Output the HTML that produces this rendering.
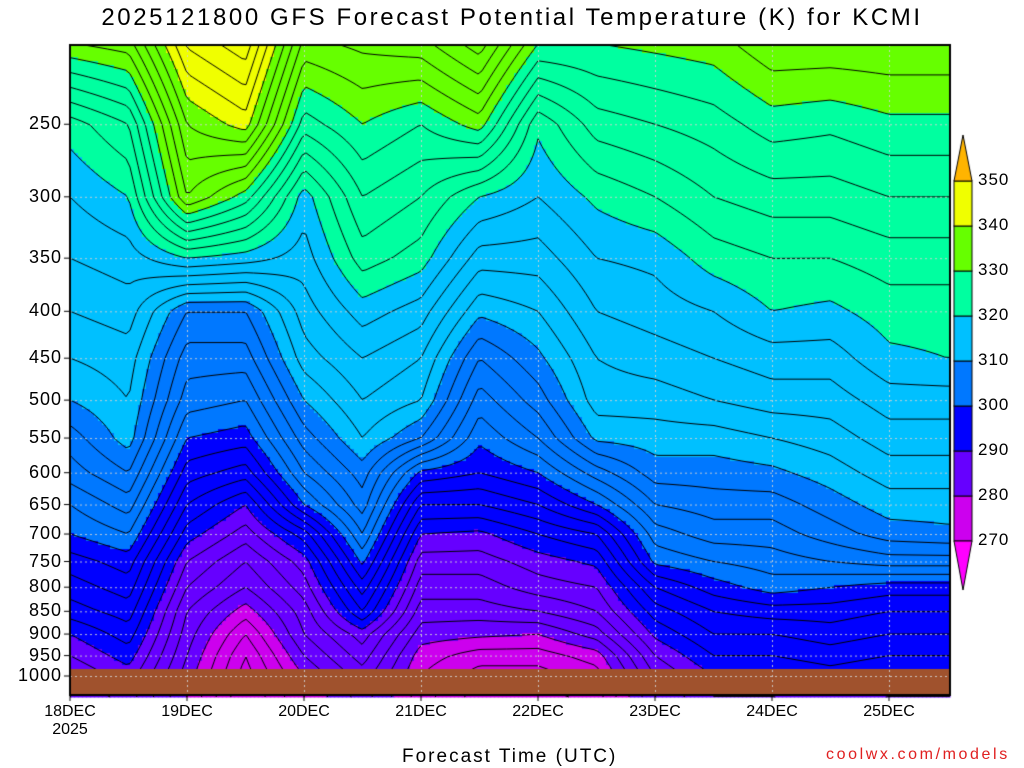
<!DOCTYPE html>
<html><head><meta charset="utf-8">
<style>
body{margin:0;background:#fff;width:1024px;height:768px;overflow:hidden;font-family:"Liberation Sans",sans-serif;}
#wrap{position:relative;width:1024px;height:768px;}
.t{position:absolute;color:#000;white-space:nowrap;}
</style></head>
<body>
<div id="wrap">
<div class="t" style="left:0;width:1024px;top:4px;text-align:center;font-size:24px;letter-spacing:2.6px;">2025121800 GFS Forecast Potential Temperature (K) for KCMI</div>
<canvas id="cv" width="1024" height="768" style="position:absolute;left:0;top:0"></canvas>
<div class="t" style="left:402px;top:746px;font-size:19px;letter-spacing:2px;">Forecast Time (UTC)</div>
<div class="t" style="left:826px;top:746px;font-size:16px;color:#e02020;letter-spacing:2.6px;">coolwx.com/models</div>
<div id="labels"></div>
</div>
<script>
const times=[0,12,24,36,48,60,72,84,96,108,120,132,144,156,168,180];
const levels=[200,250,300,350,400,450,500,550,600,650,700,750,800,850,900,950,1000];
const theta=[
[333,321,318,316,314,312,310,307,305,302,300,297,295,293,290,288,286],
[334,324,320,317,315,313,312,311,308,305,302,299,297,295,293,291,289],
[345,338,334,320,308,305,303,300,297,294,291,288,286,284,283,282,281],
[348,341,329,319,308,305,302,299,295,290,287,284,282,279,276,274,273],
[334,327,319,317,315,313,310,307,304,300,293,289,287,285,284,282,280],
[335,330,326,323,319,316,314,312,309,307,304,300.5,297,294,289,287,285],
[336,328,324,321,317,314,312,308,299.5,294,290,287,285,283,281,279,278],
[340,331,320,315,310.5,306,303,300.5,298,294,289.5,287,285,283,280.5,277,275],
[331,320.5,318,315,312,309.5,307,304,300,296,292,289,287,284,280,277,275],
[330.5,325,320.5,318,316,314,313,310.5,305,300,294,290.5,288,286,283,279,277],
[331,326,322,318.5,317,315,313,311,309,306,303,300.5,296,293,290.5,288,286],
[331.5,327,324,321,318,316,314,311,309,307,305,302,299,296,294,292,290],
[334,329,325,322,320,317,315,312,309.5,307,305,303,301,297,294,292,290],
[334,328.5,325,322,319.5,317,315,313,311,309,307,304,300,297,295,293,291],
[334,329.5,326,323,321,319.5,317,315,313,311,309,305,299,296,294,292,290],
[334,329.5,326,323,321,320,317,315,313,311,309.5,305,299,296,294,292,290]];
const yTicks=[250,300,350,400,450,500,550,600,650,700,750,800,850,900,950,1000];
const xTickLabels=["18DEC","19DEC","20DEC","21DEC","22DEC","23DEC","24DEC","25DEC"];
const cbBounds=[270,280,290,300,310,320,330,340,350];
const cbColors=["#ff00ff","#cc00ee","#6600ff","#0000ff","#0078ff","#00c0ff","#00ffa0","#66ff00","#f0ff00","#ffb400"];

const X0=70,X1=950,Y0=45,Y1=695;
const xs=h=>X0+h*117/24;
const ys=p=>676+398*Math.log(p/1000);
const pInv=y=>1000*Math.exp((y-676)/398);
function colorOf(v){let i=0;while(i<cbBounds.length&&v>=cbBounds[i])i++;return cbColors[i];}
function val(h,p){
  let i=0;while(i<times.length-2&&h>times[i+1])i++;
  let fx=(h-times[i])/(times[i+1]-times[i]);fx=Math.max(0,Math.min(1,fx));
  const lp=Math.log(p);let j=0;
  while(j<levels.length-2&&lp>Math.log(levels[j+1]))j++;
  let fy=(lp-Math.log(levels[j]))/(Math.log(levels[j+1])-Math.log(levels[j]));
  const a=theta[i][j],b=theta[i][j+1],c=theta[i+1][j],d=theta[i+1][j+1];
  return (a*(1-fy)+b*fy)*(1-fx)+(c*(1-fy)+d*fy)*fx;
}
const cv=document.getElementById('cv');const g=cv.getContext('2d');
const S=4;const nx=Math.ceil((X1-X0)/S),ny=Math.ceil((Y1-Y0)/S);
const grid=[];
for(let a=0;a<=nx;a++){grid.push([]);for(let b=0;b<=ny;b++){
  const h=(a*S)*24/117,p=pInv(Y0+b*S);grid[a].push(val(h,p));}}
for(let a=0;a<nx;a++)for(let b=0;b<ny;b++){
  const v=(grid[a][b]+grid[a+1][b]+grid[a][b+1]+grid[a+1][b+1])/4;
  g.fillStyle=colorOf(v);g.fillRect(X0+a*S,Y0+b*S,S+0.5,S+0.5);}
g.strokeStyle="#000";g.lineWidth=1;g.beginPath();
for(let L=266;L<=352;L+=2){
 for(let a=0;a<nx;a++)for(let b=0;b<ny;b++){
  const c=[grid[a][b],grid[a+1][b],grid[a+1][b+1],grid[a][b+1]];
  const P=[[X0+a*S,Y0+b*S],[X0+(a+1)*S,Y0+b*S],[X0+(a+1)*S,Y0+(b+1)*S],[X0+a*S,Y0+(b+1)*S]];
  const pts=[];
  for(let e=0;e<4;e++){const u=c[e],w=c[(e+1)%4];
   if((u<L)!==(w<L)){const f=(L-u)/(w-u);const A=P[e],B=P[(e+1)%4];pts.push([A[0]+(B[0]-A[0])*f,A[1]+(B[1]-A[1])*f]);}}
  if(pts.length>=2){g.moveTo(pts[0][0],pts[0][1]);g.lineTo(pts[1][0],pts[1][1]);}
  if(pts.length==4){g.moveTo(pts[2][0],pts[2][1]);g.lineTo(pts[3][0],pts[3][1]);}
 }}
g.stroke();
g.fillStyle="#a0522d";g.fillRect(X0,669,X1-X0,Y1-669);
g.strokeStyle="rgba(210,210,210,0.9)";g.setLineDash([2,3]);g.beginPath();
yTicks.forEach(p=>{g.moveTo(X0,ys(p)+.5);g.lineTo(X1,ys(p)+.5);});
xTickLabels.forEach((s,i)=>{const x=Math.round(xs(i*24))+.5;g.moveTo(x,Y0);g.lineTo(x,Y1);});
g.stroke();g.setLineDash([]);
g.strokeStyle="#000";g.lineWidth=2;g.strokeRect(X0,Y0,X1-X0,Y1-Y0);g.lineWidth=1;
g.beginPath();yTicks.forEach(p=>{g.moveTo(X0-6,ys(p));g.lineTo(X0,ys(p));});
xTickLabels.forEach((s,i)=>{g.moveTo(xs(i*24),Y1);g.lineTo(xs(i*24),Y1+6);});g.stroke();
const cbX=954,cbW=18,cbTop=181,step=45;
const cy=v=>cbTop+(350-v)*step/10;
for(let i=1;i<cbColors.length-1;i++){
 g.fillStyle=cbColors[i];g.fillRect(cbX,cy(cbBounds[i]),cbW,cy(cbBounds[i-1])-cy(cbBounds[i]));
 g.strokeRect(cbX,cy(cbBounds[i]),cbW,cy(cbBounds[i-1])-cy(cbBounds[i]));}
g.fillStyle=cbColors[9];g.beginPath();g.moveTo(cbX,cbTop);g.lineTo(cbX+cbW/2,135);g.lineTo(cbX+cbW,cbTop);g.closePath();g.fill();g.stroke();
g.fillStyle=cbColors[0];g.beginPath();g.moveTo(cbX,cy(270));g.lineTo(cbX+cbW/2,590);g.lineTo(cbX+cbW,cy(270));g.closePath();g.fill();g.stroke();
const lab=document.getElementById('labels');
yTicks.forEach(p=>{const d=document.createElement('div');d.className='t';


d.style.cssText=`left:0;width:62px;text-align:right;top:${ys(p)-11}px;font-size:18px;letter-spacing:1px;`;d.textContent=p;lab.appendChild(d);});
xTickLabels.forEach((s,i)=>{const d=document.createElement('div');d.className='t';


d.style.cssText=`left:${xs(i*24)-40}px;width:80px;text-align:center;top:703px;font-size:16px;`;d.textContent=s;lab.appendChild(d);});
{const d=document.createElement('div');d.className='t';


d.style.cssText='left:40px;width:60px;text-align:center;top:721px;font-size:16px;';d.textContent='2025';lab.appendChild(d);}
cbBounds.forEach(v=>{const d=document.createElement('div');d.className='t';


d.style.cssText=`left:978px;top:${cy(v)-11}px;font-size:17px;letter-spacing:1px;`;d.textContent=v;lab.appendChild(d);});
</script>
</body></html>
